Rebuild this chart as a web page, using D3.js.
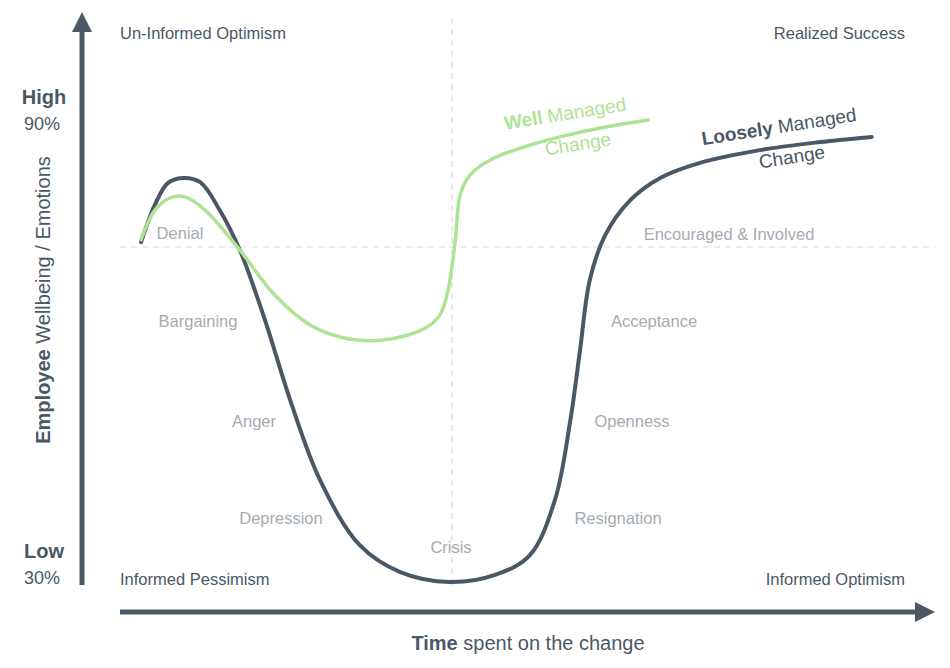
<!DOCTYPE html><html><head><meta charset="utf-8">
<script src="https://cdn.jsdelivr.net/npm/d3@7"></script>
<style>body{margin:0;background:#fff}text{font-family:Arial,"Liberation Sans",sans-serif}</style></head><body>
<svg id="c" width="950" height="668"></svg>
<script>
const looseX=[2.6,4.3,5.9,7.7,9.9,12.3,14.8,17.9,21,24.7,29.6,34.6,40.7,46.3,50.6,53.7,55.6,56.8,58,59.9,63,66.7,71.6,79,86.4,92.8];
const looseY=[72,79.9,84.5,85.6,84.7,78.8,70.3,55.5,38.6,21.6,7.8,2.1,0,1.5,5.7,17.4,34.3,49.2,64,73.5,80.9,85.6,88.8,91.5,93.2,94.3];
const wellX=[2.6,4.3,6.2,8,10.5,14.8,19.1,23.5,27.2,30.9,34.6,37.7,39.5,40.5,41.4,42,43.2,45.7,49.4,54.3,59.3,65.2];
const wellY=[72.5,78.8,81.4,81.6,78.8,70.3,60.8,54.4,51.9,51.1,51.9,53.8,56.6,61.9,72.5,82,86.2,89.4,91.9,94.3,96.2,97.9];
const stages=[["Denial",180,235],["Bargaining",198,323],["Anger",254,423],["Depression",281,520],["Crisis",451,549],["Resignation",618,520],["Openness",632,423],["Acceptance",654,323],["Encouraged & Involved",729,236]];
const corners=[["Un-Informed Optimism",120,35,"start"],["Realized Success",905,35,"end"],["Informed Pessimism",120,581,"start"],["Informed Optimism",905,581,"end"]];
const svg=d3.select("#c");
const x=d3.scaleLinear().domain([0,100]).range([120,930]);
const y=d3.scaleLinear().domain([0,100]).range([582,110]);
const grey="#4a5866";
const defs=svg.append("defs");
defs.append("marker").attr("id","ar").attr("viewBox","0 0 10 10").attr("refX",5).attr("refY",5).attr("markerWidth",4).attr("markerHeight",4).attr("orient","auto-start-reverse").append("path").attr("d","M0,0L10,5L0,10z").attr("fill",grey);
svg.append("line").attr("x1",452).attr("x2",452).attr("y1",18).attr("y2",590).attr("stroke","#d6d9dc").attr("stroke-dasharray","6,5").attr("stroke-width",1.2);
svg.append("line").attr("x1",120).attr("x2",935).attr("y1",247).attr("y2",247).attr("stroke","#d6d9dc").attr("stroke-dasharray","6,5").attr("stroke-width",1.2);
svg.append("line").attr("x1",82).attr("x2",82).attr("y1",585).attr("y2",22).attr("stroke",grey).attr("stroke-width",5).attr("marker-end","url(#ar)");
svg.append("line").attr("x1",120).attr("x2",925).attr("y1",612).attr("y2",612).attr("stroke",grey).attr("stroke-width",5).attr("marker-end","url(#ar)");
const line=d3.line().curve(d3.curveCatmullRom);
svg.append("path").attr("d",line(looseX.map((v,i)=>[x(v),y(looseY[i])]))).attr("fill","none").attr("stroke",grey).attr("stroke-width",4).attr("stroke-linecap","round");
svg.append("path").attr("d",line(wellX.map((v,i)=>[x(v),y(wellY[i])]))).attr("fill","none").attr("stroke","#aee394").attr("stroke-width",3.5).attr("stroke-linecap","round");
stages.forEach(s=>svg.append("text").attr("x",s[1]).attr("y",s[2]).attr("text-anchor","middle").attr("dominant-baseline","middle").attr("fill","#a5abb1").attr("font-size",16.5).text(s[0]));
corners.forEach(s=>svg.append("text").attr("x",s[1]).attr("y",s[2]).attr("text-anchor",s[3]).attr("dominant-baseline","middle").attr("fill","#4a5866").attr("font-size",16.5).text(s[0]));
const t1=svg.append("text").attr("x",44).attr("y",104).attr("text-anchor","middle").attr("fill",grey).attr("font-size",20);
t1.append("tspan").attr("font-weight","bold").text("High");
svg.append("text").attr("x",42).attr("y",130).attr("text-anchor","middle").attr("fill",grey).attr("font-size",18).text("90%");
svg.append("text").attr("x",44).attr("y",558).attr("text-anchor","middle").attr("fill",grey).attr("font-size",20).attr("font-weight","bold").text("Low");
svg.append("text").attr("x",42).attr("y",584).attr("text-anchor","middle").attr("fill",grey).attr("font-size",18).text("30%");
const yl=svg.append("text").attr("transform","translate(50,300) rotate(-90)").attr("text-anchor","middle").attr("fill",grey).attr("font-size",20);
yl.append("tspan").attr("font-weight","bold").text("Employee");yl.append("tspan").text(" Wellbeing / Emotions");
const xl=svg.append("text").attr("x",528).attr("y",650).attr("text-anchor","middle").attr("fill",grey).attr("font-size",20);
xl.append("tspan").attr("font-weight","bold").text("Time");xl.append("tspan").text(" spent on the change");
const g1=svg.append("g").attr("transform","translate(566,120) rotate(-9)");
const a=g1.append("text").attr("text-anchor","middle").attr("fill","#aee394").attr("font-size",19);
a.append("tspan").attr("font-weight","bold").text("Well");a.append("tspan").text(" Managed");
g1.append("text").attr("y",32).attr("x",8).attr("text-anchor","middle").attr("fill","#aee394").attr("font-size",19).text("Change");
const g2=svg.append("g").attr("transform","translate(780,133) rotate(-9)");
const b=g2.append("text").attr("text-anchor","middle").attr("fill",grey).attr("font-size",19);
b.append("tspan").attr("font-weight","bold").text("Loosely");b.append("tspan").text(" Managed");
g2.append("text").attr("y",32).attr("x",8).attr("text-anchor","middle").attr("fill",grey).attr("font-size",19).text("Change");
</script></body></html>
